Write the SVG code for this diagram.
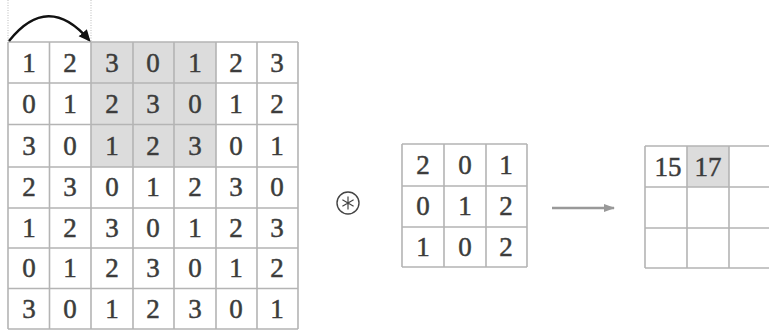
<svg xmlns="http://www.w3.org/2000/svg" width="769" height="330" viewBox="0 0 769 330">
<style>
.bg{fill:#ffffff}
.sh{fill:#dcdcdc}
.gl{stroke:#b4b4b4;stroke-width:1.6;fill:none}
.t{font-family:"Liberation Serif","DejaVu Serif",serif;font-size:27px;fill:#3c3c3c;stroke:#3c3c3c;stroke-width:0.5;text-anchor:middle}
.dot{stroke:#bbbbbb;stroke-width:1;stroke-dasharray:1 1.5;fill:none}
</style>
<defs>
<marker id="ah" viewBox="0 0 10 10" refX="8" refY="5" markerWidth="5" markerHeight="5" orient="auto" markerUnits="strokeWidth">
<path d="M0,0.5 L10,5 L0,9.5 Z" fill="#111"/>
</marker>
<marker id="ag" viewBox="0 0 10 10" refX="9" refY="5" markerWidth="4.5" markerHeight="4.5" orient="auto" markerUnits="strokeWidth">
<path d="M0,1.5 L10,5 L0,8.5 Z" fill="#999"/>
</marker>
</defs>
<rect class="bg" width="769" height="330"/>

<g id="input">
<rect class="sh" x="91" y="42" width="125" height="125"/>
<path class="gl" d="M8,42H298M8,83H298M8,124.5H298M8,167H298M8,208H298M8,248H298M8,288.5H298M8,329H298M8,42V329M49.5,42V329M91,42V329M133,42V329M174,42V329M216,42V329M257,42V329M298,42V329"/>
<g class="t">
<text x="29" y="72">1</text><text x="70" y="72">2</text><text x="112" y="72">3</text><text x="153" y="72">0</text><text x="195" y="72">1</text><text x="236" y="72">2</text><text x="277" y="72">3</text>
<text x="29" y="113">0</text><text x="70" y="113">1</text><text x="112" y="113">2</text><text x="153" y="113">3</text><text x="195" y="113">0</text><text x="236" y="113">1</text><text x="277" y="113">2</text>
<text x="29" y="155">3</text><text x="70" y="155">0</text><text x="112" y="155">1</text><text x="153" y="155">2</text><text x="195" y="155">3</text><text x="236" y="155">0</text><text x="277" y="155">1</text>
<text x="29" y="196">2</text><text x="70" y="196">3</text><text x="112" y="196">0</text><text x="153" y="196">1</text><text x="195" y="196">2</text><text x="236" y="196">3</text><text x="277" y="196">0</text>
<text x="29" y="237">1</text><text x="70" y="237">2</text><text x="112" y="237">3</text><text x="153" y="237">0</text><text x="195" y="237">1</text><text x="236" y="237">2</text><text x="277" y="237">3</text>
<text x="29" y="277">0</text><text x="70" y="277">1</text><text x="112" y="277">2</text><text x="153" y="277">3</text><text x="195" y="277">0</text><text x="236" y="277">1</text><text x="277" y="277">2</text>
<text x="29" y="318">3</text><text x="70" y="318">0</text><text x="112" y="318">1</text><text x="153" y="318">2</text><text x="195" y="318">3</text><text x="236" y="318">0</text><text x="277" y="318">1</text>
</g>
</g>

<g id="operator">
<circle cx="348" cy="203" r="11" fill="none" stroke="#444" stroke-width="1.4"/>
<path d="M348,196.5V209.5M342.4,199.8L353.6,206.2M342.4,206.2L353.6,199.8" stroke="#444" stroke-width="1.2" fill="none"/>
</g>

<g id="kernel">
<path class="gl" d="M402,144H527M402,186H527M402,227H527M402,267H527M402,144V267M444,144V267M486,144V267M527,144V267"/>
<g class="t">
<text x="423" y="174">2</text><text x="465" y="174">0</text><text x="506" y="174">1</text>
<text x="423" y="215">0</text><text x="465" y="215">1</text><text x="506" y="215">2</text>
<text x="423" y="256">1</text><text x="465" y="256">0</text><text x="506" y="256">2</text>
</g>
</g>

<g id="output">
<rect class="sh" x="687" y="146" width="42" height="41"/>
<path class="gl" d="M645,146H769M645,187H769M645,228H769M645,268H769M645,146V268M687,146V268M729,146V268"/>
<g class="t">
<text x="668" y="176">15</text><text x="708" y="176">17</text>
</g>
</g>

<g id="connectors">
<path class="dot" d="M8,0V42M91,0V42"/>
<path d="M9,41 Q48,-8 89,40" fill="none" stroke="#111" stroke-width="2.4" marker-end="url(#ah)"/>
<line x1="552" y1="208" x2="614" y2="208" stroke="#999" stroke-width="2.5" marker-end="url(#ag)"/>
</g>
</svg>
